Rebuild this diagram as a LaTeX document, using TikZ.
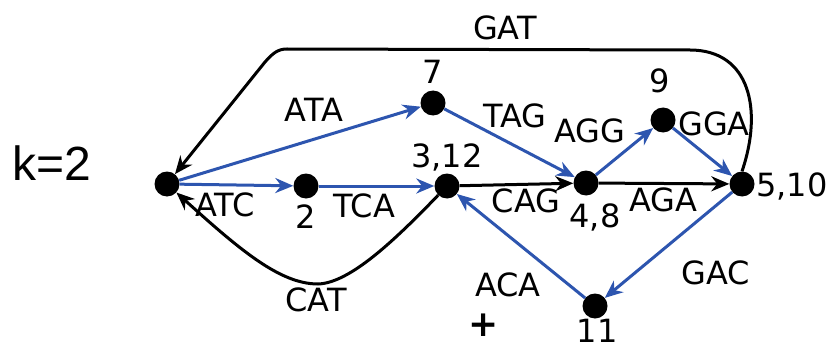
\documentclass[tikz,border=0pt]{standalone}
\usepackage{fontspec}
\setmainfont{DejaVu Sans}
\newfontfamily\kfont{Liberation Sans}
\usetikzlibrary{arrows.meta}
\definecolor{edgeblue}{RGB}{45,85,175}
\tikzset{
  vtx/.style={circle,fill=black,inner sep=0pt,minimum size=25pt},
  lbl/.style={font=\fontsize{32}{32}\selectfont,inner sep=0pt},
  bedge/.style={edgeblue,line width=3pt,-{Stealth[length=18pt,width=15pt]}},
  kedge/.style={black,line width=3pt,-{Stealth[length=18pt,width=15pt]}},
}
\begin{document}
\begin{tikzpicture}[x=1pt,y=-1pt]
\useasboundingbox (0,0) rectangle (826,350);
% vertices
\node[vtx] (n16)  at (167,184) {};
\node[vtx] (n2)   at (306,186) {};
\node[vtx] (n312) at (447,186) {};
\node[vtx] (n7)   at (433,103) {};
\node[vtx] (n48)  at (586,183) {};
\node[vtx] (n9)   at (663,120) {};
\node[vtx] (n510) at (742,184) {};
\node[vtx] (n11)  at (595,306) {};
\coordinate (tr) at (690,50);
\coordinate (tl) at (287,49);
% blue edges
\draw[bedge] (n16) -- (n7);
\draw[bedge] (n16) -- (n2);
\draw[bedge] (n2) -- (n312);
\draw[bedge] (n7) -- (n48);
\draw[bedge] (n48) -- (n9);
\draw[bedge] (n9) -- (n510);
\draw[bedge] (n510) -- (n11);
\draw[bedge] (n11) -- (n312);
% black edges
\draw[kedge] (n312) -- (n48);
\draw[kedge] (n48) -- (n510);
\draw[kedge] (n510.north) .. controls (763,110) and (750,50) .. (tr) -- (tl)
  .. controls (278,49) and (273,53) .. (265,62) -- (n16);
\draw[kedge] (n312) .. controls (395,240) and (350,283) .. (318,284)
  .. controls (280,284) and (240,250) .. (n16);
% labels
\node[lbl] at (505,28) {GAT};
\node[lbl] at (314,110) {ATA};
\node[lbl] at (433,72) {7};
\node[lbl] at (515,116) {TAG};
\node[lbl] at (590,131) {AGG};
\node[lbl] at (660,81) {9};
\node[lbl] at (714,124) {GGA};
\node[lbl] at (447,157) {3,12};
\node[lbl] at (225,205) {ATC};
\node[lbl] at (306,217) {2};
\node[lbl] at (364,206) {TCA};
\node[lbl] at (526,201) {CAG};
\node[lbl] at (595,217) {4,8};
\node[lbl] at (663,200) {AGA};
\node[lbl] at (792,186) {5,10};
\node[lbl] at (316,300) {CAT};
\node[lbl] at (508,285) {ACA};
\node[lbl] at (716,273) {GAC};
\node[lbl] at (597,331) {11};
\node[font=\fontsize{36}{36}\selectfont\bfseries,inner sep=0pt] at (484,325) {+};
\node[font=\kfont\fontsize{48}{48}\selectfont,inner sep=0pt] at (52,163) {k=2};
\end{tikzpicture}
\end{document}
